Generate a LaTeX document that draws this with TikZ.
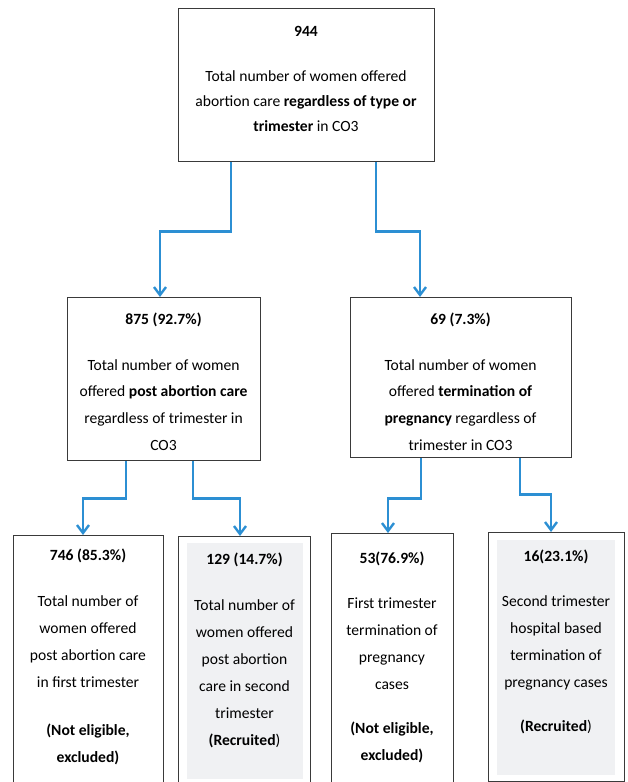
\documentclass[tikz,border=0pt]{standalone}
\usepackage{fontspec}
\setmainfont{Carlito}
\usetikzlibrary{arrows.meta,positioning}
\definecolor{flowblue}{HTML}{2C8FD3}
\definecolor{panel}{HTML}{F0F1F3}
\definecolor{frame}{HTML}{3A3A3A}

\begin{document}
\begin{tikzpicture}[x=.75pt,y=-.75pt,>={Straight Barb[length=6pt,width=9pt]},
  box/.style 2 args={draw=frame,line width=1pt,anchor=north west,inner sep=0pt,minimum width=#1,minimum height=#2},
  txt/.style={anchor=base,align=center,inner sep=0pt,font=\fontsize{11.7pt}{#1}\selectfont},
  txt/.default=20.25pt,
  flow/.style={flowblue,line width=1.8pt,->}]
\useasboundingbox (0,0) rectangle (628,782);
\clip (0,0) rectangle (628,782);
% shaded panels of the recruited groups
\fill[panel] (187,543) rectangle (303,779);
\fill[panel] (497,540) rectangle (615,775);
% boxes
\node[box={192pt}{114.75pt}] (all) at (178,8) {};
\node[box={144.75pt}{122.25pt}] (pac) at (67,297) {};
\node[box={165.75pt}{120pt}] (top) at (350,297) {};
\node[box={112.5pt}{191.25pt}] (pac1) at (13,535) {};
\node[box={99pt}{190.5pt}] (pac2) at (178,536) {};
\node[box={91.5pt}{192.75pt}] (top1) at (331,533) {};
\node[box={102pt}{186.75pt}] (top2) at (488,532) {};
% connectors
\draw[flow] (all.south -| 231,0) -- ++(0,69) -| (pac.north -| 160,0);
\draw[flow] (all.south -| 376,0) -- ++(0,69) -| (top.north -| 420,0);
\draw[flow] (pac.south -| 126,0) -- ++(0,37) -| (pac1.north -| 83,0);
\draw[flow] (pac.south -| 193,0) -- ++(0,37) -| (pac2.north -| 240,0);
\draw[flow] (top.south -| 421,0) -- ++(0,40) -| (top1.north -| 388,0);
\draw[flow] (top.south -| 520,0) -- ++(0,36) -| (top2.north -| 551,0);
% texts (anchored at the baseline of their last line)
\node[txt=18.75pt] (all-t) at (306,131) {\textbf{944}\\[15pt]Total number of women offered\\abortion care \textbf{regardless of type or}\\\textbf{trimester} in CO3};
\node[txt=20pt] (pac-t) at (163.5,450) {\textbf{875 (92.7\%)}\\[14.3pt]Total number of women\\offered \textbf{post abortion care}\\regardless of trimester in\\CO3};
\node[txt=20pt] (top-t) at (460.5,450) {\textbf{69 (7.3\%)}\\[14.3pt]Total number of women\\offered \textbf{termination of}\\\textbf{pregnancy} regardless of\\trimester in CO3};
\node[txt] (pac1-t) at (88,762) {\textbf{746 (85.3\%)}\\[14pt]Total number of\\women offered\\post abortion care\\in first trimester\\[15.3pt]\textbf{(Not eligible,}\\\textbf{excluded)}};
\node[txt] (pac2-t) at (244.5,745) {\textbf{129 (14.7\%)}\\[14pt]Total number of\\women offered\\post abortion\\care in second\\trimester\\\textbf{(Recruited})};
\node[txt] (top1-t) at (392,760) {\textbf{53(76.9\%)}\\[13.5pt]First trimester\\termination of\\pregnancy\\cases\\[12.75pt]\textbf{(Not eligible,}\\\textbf{excluded)}};
\node[txt] (top2-t) at (556,731) {\textbf{16(23.1\%)}\\[13.5pt]Second trimester\\hospital based\\termination of\\pregnancy cases\\[12.75pt]\textbf{(Recruited})};
\end{tikzpicture}
\end{document}
